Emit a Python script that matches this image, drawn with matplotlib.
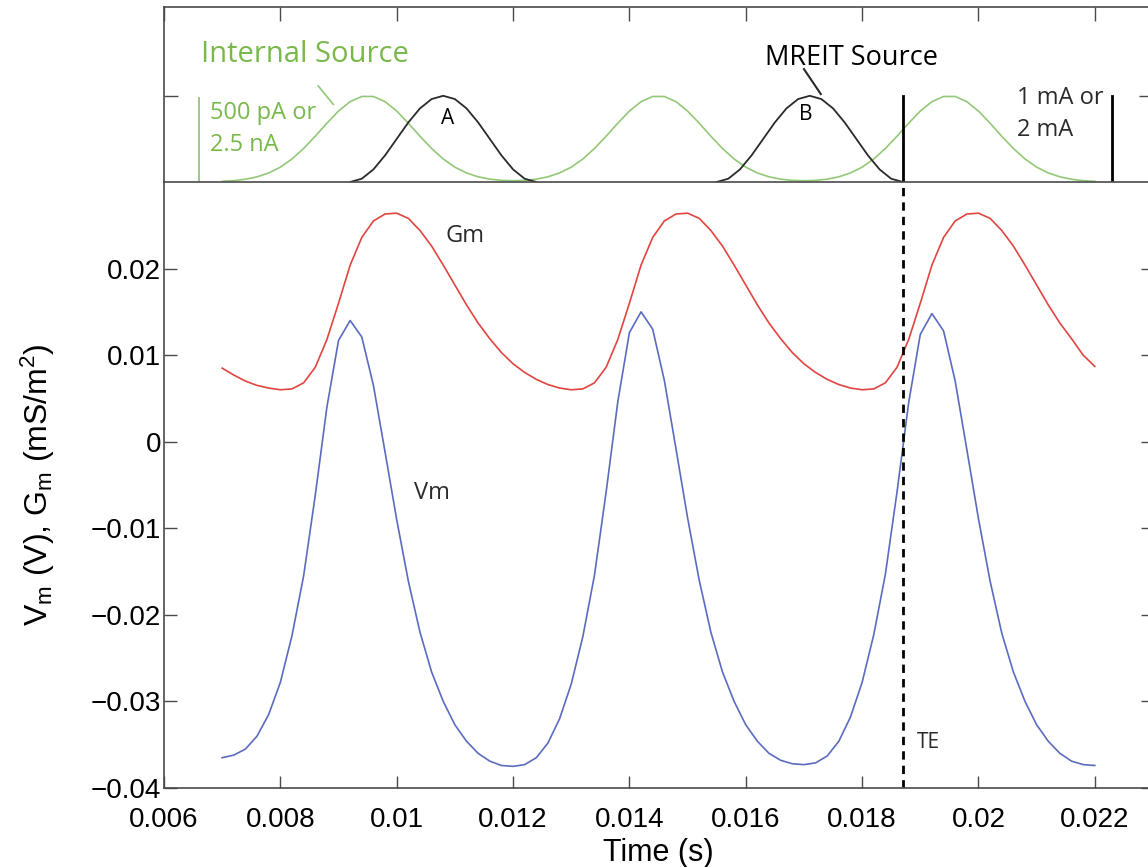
import matplotlib
matplotlib.use('Agg')
import matplotlib.pyplot as plt

# ---------------- data ----------------
t = [0.00700 + 0.0002 * i for i in range(76)]

vm = [-0.0365, -0.0362, -0.0355, -0.0340, -0.0315, -0.0278, -0.0224, -0.0155, -0.0062, 0.0040,
      0.0117, 0.0140, 0.0121, 0.0065, -0.0012, -0.0090, -0.0161, -0.0220, -0.0266, -0.0300,
      -0.0327, -0.0346, -0.0360, -0.0369, -0.0374,
      -0.0375, -0.0373, -0.0365, -0.0348, -0.0320, -0.0280, -0.0225, -0.0154, -0.0058, 0.0046,
      0.0126, 0.0150, 0.0130, 0.0071, -0.0008, -0.0088, -0.0160, -0.0220, -0.0266, -0.0300,
      -0.0327, -0.0346, -0.0360, -0.0368, -0.0372,
      -0.0373, -0.0371, -0.0363, -0.0346, -0.0318, -0.0278, -0.0223, -0.0153, -0.0058, 0.0045,
      0.0124, 0.0148, 0.0128, 0.0070, -0.0009, -0.0089, -0.0161, -0.0221, -0.0266, -0.0300,
      -0.0327, -0.0346, -0.0360, -0.0369, -0.0373,
      -0.0374]

gm = [0.0085, 0.0077, 0.0070, 0.0065, 0.0062,
      0.0060, 0.0061, 0.0068, 0.0086, 0.0118, 0.0160, 0.0204, 0.0236, 0.0255, 0.0263,
      0.0264, 0.0258, 0.0244, 0.0226, 0.0204, 0.0181, 0.0158, 0.0137, 0.0119, 0.0103,
      0.0090, 0.0080, 0.0072, 0.0066, 0.0062,
      0.0060, 0.0061, 0.0068, 0.0086, 0.0118, 0.0160, 0.0204, 0.0236, 0.0255, 0.0263,
      0.0264, 0.0258, 0.0244, 0.0226, 0.0204, 0.0181, 0.0158, 0.0137, 0.0119, 0.0103,
      0.0090, 0.0080, 0.0072, 0.0066, 0.0062,
      0.0060, 0.0061, 0.0068, 0.0086, 0.0118, 0.0160, 0.0204, 0.0236, 0.0255, 0.0263,
      0.0264, 0.0258, 0.0244, 0.0226, 0.0204, 0.0181, 0.0158, 0.0137, 0.0119, 0.0100,
      0.0087]

internal = [0.008, 0.016, 0.032, 0.060, 0.105, 0.172, 0.267, 0.389, 0.531, 0.682,
            0.823, 0.932, 0.992, 0.992, 0.932, 0.823, 0.682, 0.531, 0.389, 0.267,
            0.172, 0.105, 0.060, 0.033, 0.019, 0.015, 0.019, 0.033, 0.060, 0.105,
            0.172, 0.267, 0.389, 0.531, 0.682, 0.823, 0.932, 0.992, 0.992, 0.932,
            0.823, 0.682, 0.531, 0.389, 0.267, 0.172, 0.105, 0.060, 0.033, 0.019,
            0.015, 0.019, 0.033, 0.060, 0.105, 0.172, 0.267, 0.389, 0.531, 0.682,
            0.823, 0.932, 0.992, 0.992, 0.932, 0.823, 0.682, 0.531, 0.389, 0.267,
            0.172, 0.105, 0.060, 0.032, 0.016, 0.008]

pulse_shape = [0.0, 0.038, 0.146, 0.309, 0.5, 0.691, 0.854, 0.962, 1.0,
               0.962, 0.854, 0.691, 0.5, 0.309, 0.146, 0.038, 0.0]
t_pulse_a = [0.0092 + 0.0002 * k for k in range(17)]
t_pulse_b = [0.0155 + 0.0002 * k for k in range(17)]

te_time = 0.0187
xticks = [0.006, 0.008, 0.010, 0.012, 0.014, 0.016, 0.018, 0.020, 0.022]
xticklabels = ['0.006', '0.008', '0.01', '0.012', '0.014', '0.016', '0.018', '0.02', '0.022']
yticks = [-0.04, -0.03, -0.02, -0.01, 0.0, 0.01, 0.02]
yticklabels = ['\u22120.04', '\u22120.03', '\u22120.02', '\u22120.01', '0', '0.01', '0.02']

# ---------------- style ----------------
plt.rcParams['font.family'] = ['Liberation Sans', 'DejaVu Sans']
plt.rcParams['mathtext.fontset'] = 'custom'
plt.rcParams['mathtext.rm'] = 'Liberation Sans'
plt.rcParams['mathtext.it'] = 'Liberation Sans'

GREEN_TXT = '#79b84a'
GREEN_LN = '#93c878'
RED = '#e2443f'
BLUE = '#5b6bbf'
DARK = '#2a2a2a'
SPINE = '#4a4a4a'
ANN = 'Open Sans'

W, H = 1148, 867
fig = plt.figure(figsize=(W / 100, H / 100), dpi=100)
L, R = 164, 1153
ax = fig.add_axes([L / W, (H - 788) / H, (R - L) / W, (788 - 182) / H])
axt = fig.add_axes([L / W, (H - 182) / H, (R - L) / W, (182 - 7) / H])

xlim = (0.006, 0.023)

# ---------------- main axes ----------------
ax.plot(t, gm, color=RED, lw=1.2)
ax.plot(t, vm, color=BLUE, lw=1.2)
ax.axvline(te_time, color='black', lw=2, ls=(0, (3, 2.2)))
ax.set_xlim(*xlim)
ax.set_ylim(-0.04, 0.03)
ax.set_xticks(xticks)
ax.set_xticklabels(xticklabels)
ax.set_yticks(yticks)
ax.set_yticklabels(yticklabels)
ax.tick_params(direction='in', length=9, width=1, color=SPINE, labelsize=20,
               right=True, top=False)
ax.tick_params(axis='x', pad=14)
ax.tick_params(axis='y', pad=2)
for s in ax.spines.values():
    s.set_color(SPINE)
    s.set_linewidth(1.2)
ax.spines['top'].set_visible(False)
ax.set_xlabel('Time (s)', fontsize=22)
ax.xaxis.set_label_coords(0.5, -0.083)
ax.set_ylabel(r'V$_\mathregular{m}$ (V), G$_\mathregular{m}$ (mS/m$^\mathregular{2}$)', fontsize=23)
ax.yaxis.set_label_coords(-0.108, 0.5)

ax.text(0.01117, 0.0238, 'Gm', family=ANN, fontsize=17, color=DARK, ha='center', va='center')
ax.text(0.0106, -0.0059, 'Vm', family=ANN, fontsize=17, color=DARK, ha='center', va='center')
ax.text(0.01894, -0.0348, 'TE', family=ANN, fontsize=15, color=DARK, ha='left', va='center')

# ---------------- top axes ----------------
axt.plot(t, internal, color=GREEN_LN, lw=1.2)
axt.plot(t_pulse_a, pulse_shape, color=DARK, lw=1.3)
axt.plot(t_pulse_b, pulse_shape, color=DARK, lw=1.3)
axt.plot([te_time, te_time], [0, 1], color='black', lw=2)
axt.plot([0.0223, 0.0223], [0, 1], color='black', lw=2)
axt.plot([0.0066, 0.0066], [0, 0.98], color=GREEN_LN, lw=1.3)
axt.plot([0.00865, 0.00891], [1.115, 0.90], color=GREEN_LN, lw=1.2)
axt.plot([0.0170, 0.01729], [1.31, 1.02], color=DARK, lw=1.5)
axt.set_xlim(*xlim)
axt.set_ylim(0, 2.03)
axt.set_xticks(xticks)
axt.set_yticks([1])
axt.tick_params(direction='in', length=10, width=1, color=SPINE,
                labelbottom=False, labelleft=False, bottom=False, top=True, right=True)
for s in axt.spines.values():
    s.set_color(SPINE)
    s.set_linewidth(1.2)

axt.text(0.00664, 1.477, 'Internal Source', family=ANN, fontsize=21, color=GREEN_TXT,
         ha='left', va='center')
axt.text(0.00679, 0.80, '500 pA or', family=ANN, fontsize=17, color=GREEN_TXT, ha='left', va='center')
axt.text(0.00679, 0.43, '2.5 nA', family=ANN, fontsize=17, color=GREEN_TXT, ha='left', va='center')
axt.text(0.01782, 1.44, 'MREIT Source', family=ANN, fontsize=19.5, color='black', ha='center', va='center')
axt.text(0.02067, 0.98, '1 mA or', family=ANN, fontsize=17, color=DARK, ha='left', va='center')
axt.text(0.02067, 0.60, '2 mA', family=ANN, fontsize=17, color=DARK, ha='left', va='center')
axt.text(0.01088, 0.74, 'A', family=ANN, fontsize=15, color='black', ha='center', va='center')
axt.text(0.01703, 0.78, 'B', family=ANN, fontsize=15, color='black', ha='center', va='center')

fig.savefig('out.png', dpi=100)
